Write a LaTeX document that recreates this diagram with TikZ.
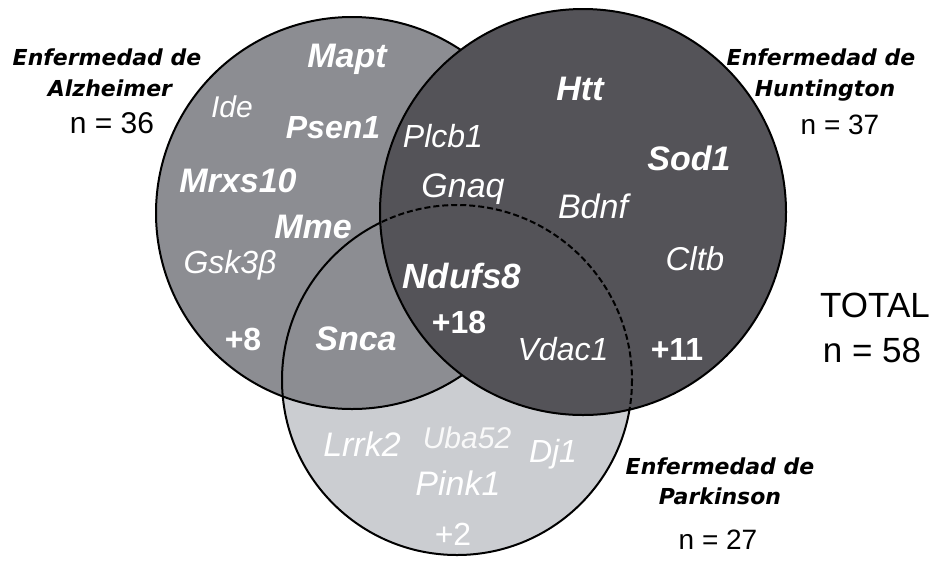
\documentclass[tikz,border=0pt]{standalone}
\usepackage{fontspec}
\setmainfont{Liberation Sans}
\newfontfamily\dejavu{DejaVu Sans}
\usepackage{xcolor}
\usepackage{tikz}
\definecolor{grauA}{RGB}{140,141,146}
\definecolor{grauH}{RGB}{84,83,88}
\definecolor{grauP}{RGB}{203,205,209}
\tikzset{
  Gen/.style={text=white, inner sep=0pt, anchor=base,
    font=\fontsize{#1}{#1}\selectfont\itshape}, % normale Gene
  Gen/.default=16,
  FGen/.style={Gen, font=\fontsize{#1}{#1}\selectfont\bfseries\itshape}, % fette Gene
  FGen/.default=17,
  Plus/.style={Gen, font=\fontsize{#1}{#1}\selectfont\bfseries}, % weitere Gene
  Plus/.default=16,
  Krank/.style={inner sep=0pt, anchor=base,
    font=\dejavu\fontsize{11}{11}\selectfont\bfseries\itshape}, % Krankheit
  Zahl/.style={inner sep=0pt, anchor=base,
    font=\fontsize{#1}{#1}\selectfont}, % n = ...
  Zahl/.default=14,
  Kreis/.style={line width=1pt}
}
\begin{document}
\begin{tikzpicture}[x=0.5pt, y=-0.5pt]
\useasboundingbox (0,0) rectangle (936,563);

%Kreise
\coordinate (AZ) at (352,213);
\coordinate (HT) at (583,212);
\coordinate (PK) at (457,380);

\fill[grauP] (PK) circle (175);
\fill[grauA] (AZ) circle (196);
\draw[Kreis] (AZ) circle (196);
\draw[Kreis] (PK) circle (175);
\fill[grauH] (HT) circle (203);
\begin{scope}
\clip (HT) circle (203);
\draw[Kreis, dash pattern=on 3pt off 1.5pt] (PK) circle (175);
\end{scope}
\draw[Kreis] (HT) circle (203);

%Gene Alzheimer
\node[FGen] (mapt) at (347,67) {Mapt};
\node[Gen=15] (ide) at (232,117) {Ide};
\node[FGen=16] (psen) at (333,138) {Psen1};
\node[FGen] (mrxs) at (238,192) {Mrxs10};
\node[FGen] (mme) at (313,238) {Mme};
\node[Gen] (gsk) at (230,273) {Gsk3β};
\node[Plus] (plus8) at (243,350) {+8};
\node[FGen] (snca) at (356,350) {Snca};

%Gene Huntington
\node[Gen] (plcb) at (443,147) {Plcb1};
\node[Gen=17] (gnaq) at (463,197) {Gnaq};
\node[FGen] (htt) at (580,100) {Htt};
\node[FGen] (sod) at (689,170) {Sod1};
\node[Gen=17] (bdnf) at (593,218) {Bdnf};
\node[Gen=16.5] (cltb) at (695,270) {Cltb};
\node[FGen=17.5] (nduf) at (462,288) {Ndufs8};
\node[Plus] (plus18) at (459,333) {+18};
\node[Gen] (vdac) at (563,360) {Vdac1};
\node[Plus] (plus11) at (677,360) {+11};

%Gene Parkinson
\node[Gen=17] (lrrk) at (362,456) {Lrrk2};
\node[Gen=15, text=white!88!grauP] (uba) at (467,448) {Uba52};
\node[Gen] (dj) at (553,462) {Dj1};
\node[Gen=17] (pink) at (458,495) {Pink1};
\node[Plus, font=\fontsize{16}{16}\selectfont] (plus2) at (453,545) {+2};

%Beschriftungen
\node[Krank] (alz1) at (107,65) {Enfermedad de};
\node[Krank] (alz2) at (110,96) {Alzheimer};
\node[Zahl=15] (alzN) at (112,133) {n = 36};

\node[Krank] (hun1) at (821,65) {Enfermedad de};
\node[Krank] (hun2) at (825,96) {Huntington};
\node[Zahl] (hunN) at (840,134) {n = 37};

\node[Krank] (par1) at (720,474) {Enfermedad de};
\node[Krank] (par2) at (720,504) {Parkinson};
\node[Zahl] (parN) at (718,549) {n = 27};

\node[Zahl=17.5] (tot) at (875,317) {TOTAL};
\node[Zahl=17.5] (totN) at (872,362) {n = 58};

\end{tikzpicture}
\end{document}
